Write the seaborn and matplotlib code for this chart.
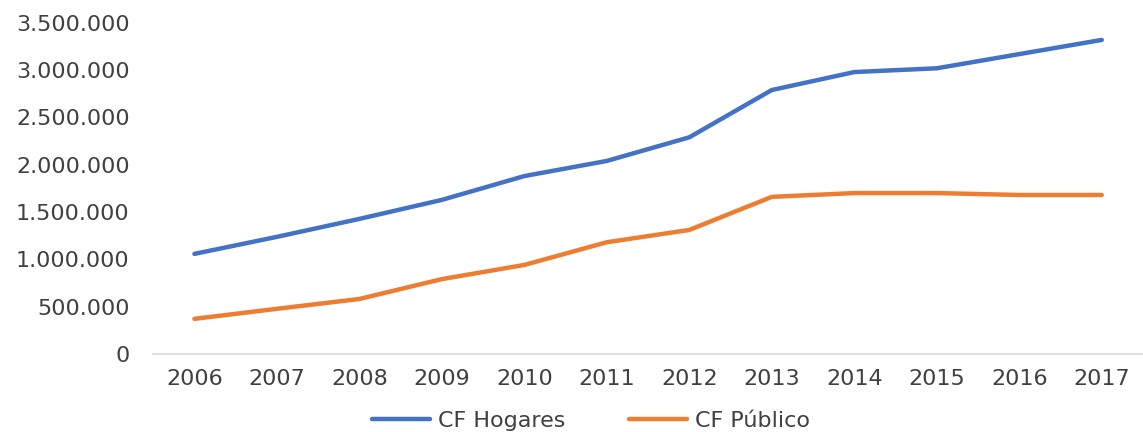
import matplotlib
matplotlib.use("Agg")
import matplotlib.pyplot as plt
import matplotlib.ticker as mticker
import seaborn as sns
import pandas as pd

years = ["2006", "2007", "2008", "2009", "2010", "2011", "2012", "2013", "2014", "2015", "2016", "2017"]
hogares = [1057000, 1237000, 1427000, 1628000, 1880000, 2040000, 2290000, 2790000, 2980000, 3020000, 3170000, 3320000]
publico = [370000, 476000, 580000, 790000, 940000, 1180000, 1310000, 1660000, 1700000, 1700000, 1680000, 1680000]
series_names = ["CF Hogares", "CF Público"]
colors = ["#4472C4", "#ED7D31"]

df = pd.DataFrame({
    "year": years * 2,
    "value": hogares + publico,
    "serie": [series_names[0]] * len(years) + [series_names[1]] * len(years),
})

sns.set_theme(style="white")
plt.rcParams["font.family"] = ["DejaVu Sans"]

fig = plt.figure(figsize=(11.43, 4.32), dpi=100)
ax = fig.add_axes([0.134, 0.181, 0.866, 0.766])
sns.lineplot(data=df, x="year", y="value", hue="serie", palette=colors,
             linewidth=3.2, ax=ax, sort=False, legend=True)

ax.set_xlim(-0.5, 11.5)
ax.set_ylim(0, 3500000)
ax.yaxis.set_major_locator(mticker.MultipleLocator(500000))
ax.yaxis.set_major_formatter(mticker.FuncFormatter(lambda v, p: f"{int(v):,}".replace(",", ".")))
ax.set_xlabel("")
ax.set_ylabel("")
for s in ["top", "right", "left"]:
    ax.spines[s].set_visible(False)
ax.spines["bottom"].set_color("#d9d9d9")
ax.spines["bottom"].set_linewidth(1.2)
ax.tick_params(axis="both", length=0, labelsize=16, labelcolor="#404040")
ax.tick_params(axis="x", pad=11)
ax.tick_params(axis="y", pad=17)
ax.grid(False)

handles, labels = ax.get_legend_handles_labels()
ax.get_legend().remove()
fig.legend(handles, labels, loc="center", bbox_to_anchor=(0.517, 0.025), ncol=2,
           frameon=False, fontsize=16, labelcolor="#404040", handlelength=2.6,
           columnspacing=2.9, handletextpad=0.35)

fig.savefig("out.png", dpi=100, facecolor="white")
